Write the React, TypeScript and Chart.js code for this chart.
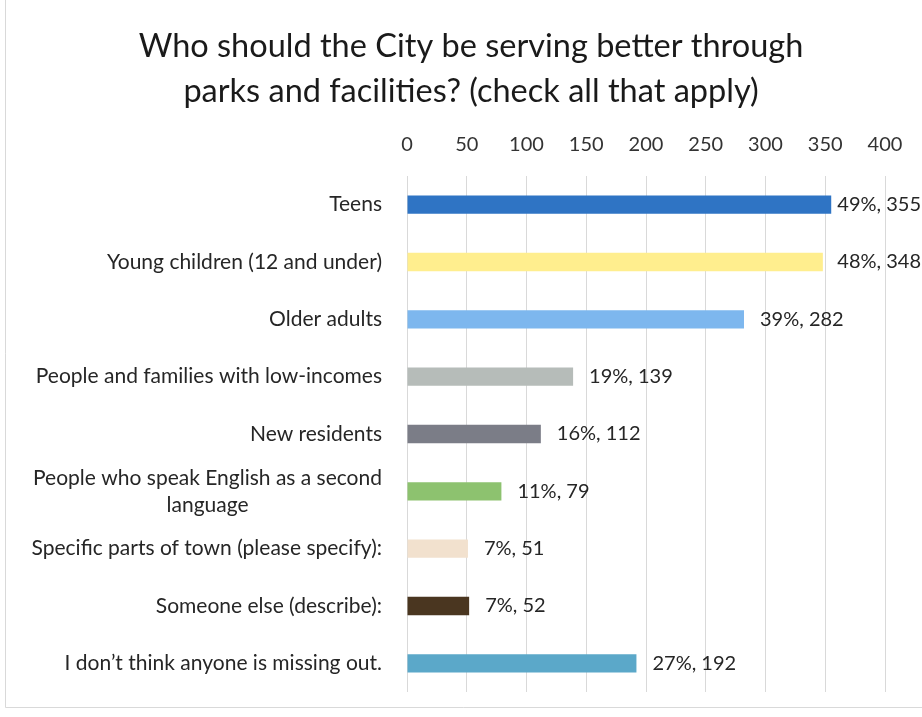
import React, { useEffect, useRef } from "react";
import { Chart, registerables } from "chart.js";

Chart.register(...registerables);

const titleLines = [
  "Who should the City be serving better through",
  "parks and facilities? (check all that apply)",
];

const categories: (string | string[])[] = [
  "Teens",
  "Young children (12 and under)",
  "Older adults",
  "People and families with low-incomes",
  "New residents",
  ["People who speak English as a second", "language"],
  "Specific parts of town (please specify):",
  "Someone else (describe):",
  "I don\u2019t think anyone is missing out.",
];

const counts = [355, 348, 282, 139, 112, 79, 51, 52, 192];
const percents = [49, 48, 39, 19, 16, 11, 7, 7, 27];

const barColors = [
  "#2F74C4",
  "#FFEE8E",
  "#7DB7EE",
  "#B6BCB9",
  "#7B7D87",
  "#8DC26F",
  "#F2E1CE",
  "#4A3620",
  "#5BA8C9",
];

const xMin = 0;
const xMax = 400;
const xStep = 50;

const FONT = "Lato, 'Open Sans', sans-serif";
const TEXT = "#262626";

const framePlugin = {
  id: "frame",
  beforeDraw(chart: any) {
    const { ctx, width, height } = chart;
    ctx.save();
    ctx.fillStyle = "#ffffff";
    ctx.fillRect(0, 0, width, height);
    ctx.strokeStyle = "#D9D9D9";
    ctx.lineWidth = 1;
    ctx.beginPath();
    ctx.moveTo(5.5, 0);
    ctx.lineTo(5.5, 707.5);
    ctx.lineTo(width, 707.5);
    ctx.stroke();
    ctx.restore();
  },
};

const titlePlugin = {
  id: "customTitle",
  afterDraw(chart: any) {
    const { ctx } = chart;
    ctx.save();
    ctx.fillStyle = "#1A1A1A";
    ctx.font = `32.5px ${FONT}`;
    ctx.textAlign = "center";
    ctx.textBaseline = "alphabetic";
    ctx.fillText(titleLines[0], 471, 57);
    ctx.fillText(titleLines[1], 471, 102);
    ctx.restore();
  },
};

const yLabelPlugin = {
  id: "yLabels",
  afterDraw(chart: any) {
    const { ctx, chartArea } = chart;
    const yScale = chart.scales.y;
    const right = chartArea.left - 25;
    const lh = 27;
    ctx.save();
    ctx.fillStyle = TEXT;
    ctx.font = `21px ${FONT}`;
    ctx.textBaseline = "middle";
    categories.forEach((label, i) => {
      const y = yScale.getPixelForValue(i);
      if (Array.isArray(label)) {
        const maxW = Math.max(...label.map((l) => ctx.measureText(l).width));
        const cx = right - maxW / 2;
        ctx.textAlign = "center";
        label.forEach((line, j) => {
          ctx.fillText(line, cx, y - ((label.length - 1) * lh) / 2 + j * lh);
        });
      } else {
        ctx.textAlign = "right";
        ctx.fillText(label, right, y);
      }
    });
    ctx.restore();
  },
};

const dataLabelPlugin = {
  id: "dataLabels",
  afterDatasetsDraw(chart: any) {
    const { ctx, width } = chart;
    const meta = chart.getDatasetMeta(0);
    ctx.save();
    ctx.fillStyle = TEXT;
    ctx.font = `20px ${FONT}`;
    ctx.textBaseline = "middle";
    ctx.textAlign = "left";
    meta.data.forEach((bar: any, i: number) => {
      const text = `${percents[i]}%, ${counts[i]}`;
      const w = ctx.measureText(text).width;
      const x = Math.min(bar.x + 16, width - w - 1);
      ctx.fillText(text, x, bar.y);
    });
    ctx.restore();
  },
};

export default function App() {
  const ref = useRef<HTMLCanvasElement | null>(null);

  useEffect(() => {
    if (!ref.current) return;
    const chart = new Chart(ref.current, {
      type: "bar",
      data: {
        labels: categories as any,
        datasets: [
          {
            data: counts,
            backgroundColor: barColors,
            borderWidth: 0,
            barPercentage: 0.32,
            categoryPercentage: 1,
          },
        ],
      },
      options: {
        indexAxis: "y",
        responsive: false,
        animation: false,
        devicePixelRatio: 1,
        layout: { padding: { left: 0, right: 37, top: 0, bottom: 25 } },
        plugins: {
          legend: { display: false },
          tooltip: { enabled: false },
          title: { display: false },
        },
        scales: {
          x: {
            position: "top",
            min: xMin,
            max: xMax,
            ticks: {
              stepSize: xStep,
              padding: 19,
              color: "#333333",
              font: { family: FONT, size: 20 },
            },
            grid: { color: "#D9D9D9", lineWidth: 1, drawTicks: false },
            border: { display: false },
            afterFit(scale: any) {
              scale.height = 176;
            },
          },
          y: {
            ticks: { display: false },
            grid: { display: false },
            border: { display: false },
            afterFit(scale: any) {
              scale.width = 407;
            },
          },
        },
      },
      plugins: [framePlugin, titlePlugin, yLabelPlugin, dataLabelPlugin],
    });
    return () => chart.destroy();
  }, []);

  return (
    <div style={{ position: "absolute", left: 0, top: 0, width: 922, height: 717, background: "#fff" }}>
      <canvas ref={ref} width={922} height={717} />
    </div>
  );
}
